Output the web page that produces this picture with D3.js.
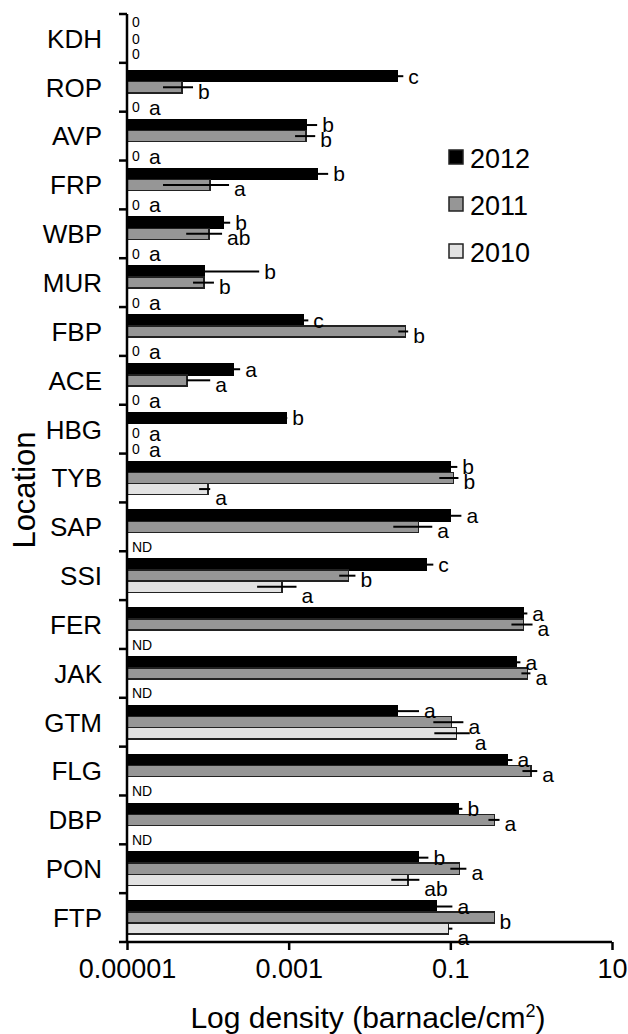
<!DOCTYPE html>
<html>
<head>
	<meta http-equiv="Content-Type" content="text/html; charset=utf-8">
	<title>Barnacle density by location</title>
	<script src="https://d3js.org/d3.v7.min.js"></script>
	<style>
		body { margin: 0; background: #fff; }
		text { font-family: 'Liberation Sans', Arial, sans-serif; fill: #000; }
		.bar { stroke: #222; stroke-width: 1.5; shape-rendering: crispEdges; }
		.err { stroke: #000; stroke-width: 2; }
		.axis path, .axis line { stroke: #000; stroke-width: 2.5; }
	</style>
</head>
<body>
<script>
	// sites, top to bottom
	var locations = ["KDH", "ROP", "AVP", "FRP", "WBP", "MUR", "FBP", "ACE", "HBG", "TYB",
		"SAP", "SSI", "FER", "JAK", "GTM", "FLG", "DBP", "PON", "FTP"];
	var years = ["2012", "2011", "2010"];

	// mean density (barnacle/cm2); 0 = zero count, null = not done
	var mean2012 = [0, 0.022, 0.00165, 0.00225, 0.000155, 0.00009, 0.00151, 0.000206, 0.00093, 0.1,
		0.1, 0.0504, 0.80, 0.656, 0.022, 0.508, 0.126, 0.0402, 0.0671];
	var mean2011 = [0, 0.000048, 0.00165, 0.000107, 0.000104, 0.00009, 0.0277, 0.0000553, 0, 0.109,
		0.0402, 0.00546, 0.80, 0.897, 0.103, 1.0, 0.351, 0.129, 0.351];
	var mean2010 = [0, 0, 0, 0, 0, 0, 0, 0, 0, 0.0001,
		null, 0.00083, null, null, 0.119, null, null, 0.030, 0.0945];

	// error bar ends (low, high)
	var errLo2012 = mean2012;
	var errHi2012 = [0, 0.0262, 0.00225, 0.00308, 0.000189, 0.000432, 0.00175, 0.000251, 0.00096, 0.122,
		0.137, 0.0616, 0.897, 0.736, 0.041, 0.586, 0.141, 0.0535, 0.106];
	var errLo2011 = [0, 0.0000279, 0.0012, 0.0000279, 0.000054, 0.0000656, 0.0227, 0.0000553, 0, 0.073,
		0.0197, 0.00422, 0.57, 0.757, 0.0616, 0.78, 0.296, 0.1, 0.351];
	var errHi2011 = [0, 0.0000656, 0.00213, 0.000183, 0.00015, 0.000119, 0.0301, 0.000107, 0, 0.126,
		0.0598, 0.0067, 1.04, 0.98, 0.145, 1.19, 0.406, 0.158, 0.351];
	var errLo2010 = [0, 0, 0, 0, 0, 0, 0, 0, 0, 0.000078,
		null, 0.000407, null, null, 0.0634, null, null, 0.0186, 0.0945];
	var errHi2010 = [0, 0, 0, 0, 0, 0, 0, 0, 0, 0.000107,
		null, 0.00125, null, null, 0.174, null, null, 0.0414, 0.106];

	// significance letters
	var letters2012 = ["", "c", "b", "b", "b", "b", "c", "a", "b", "b", "a", "c", "a", "a", "a", "a", "b", "b", "a"];
	var letters2011 = ["", "b", "b", "a", "ab", "b", "b", "a", "a", "b", "a", "b", "a", "a", "a", "a", "a", "a", "b"];
	var letters2010 = ["", "a", "a", "a", "a", "a", "a", "a", "a", "a", "", "a", "", "", "a", "", "", "ab", "a"];

	var xTicks = [0.00001, 0.001, 0.1, 10];
	var xTickLabels = ["0.00001", "0.001", "0.1", "10"];

	var series = [
		{year: "2012", mean: mean2012, lo: errLo2012, hi: errHi2012, letters: letters2012, fill: "#000000"},
		{year: "2011", mean: mean2011, lo: errLo2011, hi: errHi2011, letters: letters2011, fill: "#969696"},
		{year: "2010", mean: mean2010, lo: errLo2010, hi: errHi2010, letters: letters2010, fill: "#e2e2e2"}
	];
	// labels sit a little lower for the lower bars, as in the original
	var textShift = {"2012": 0, "2011": 4, "2010": 9};
	var zeroShift = {"2012": -5, "2011": 1, "2010": 5};   // stacked zeros of KDH

	var width = 628, height = 1034;
	var svg = d3.select("body").append("svg")
			.attr("width", width)
			.attr("height", height);

	var x = d3.scaleLog().domain([0.00001, 10]).range([127, 612]);
	var y = d3.scaleBand().domain(locations).range([14, 942])
			.paddingInner(0.32).paddingOuter(0.16);
	var yInner = d3.scaleBand().domain(years).range([0, y.bandwidth()]);

	// flatten to one record per bar
	var rows = [];
	series.forEach(function(s) {
		locations.forEach(function(loc, i) {
			rows.push({loc: loc, year: s.year, mean: s.mean[i], lo: s.lo[i], hi: s.hi[i],
				letter: s.letters[i], fill: s.fill});
		});
	});

	function midY(d) { return y(d.loc) + yInner(d.year) + yInner.bandwidth() / 2; }

	var plot = svg.append("g");

	// bars
	plot.selectAll(".bar")
			.data(rows.filter(function(d) { return d.mean > 0; }))
			.enter()
			.append("rect")
			.attr("class", "bar")
			.attr("x", x(0.00001))
			.attr("y", function(d) { return y(d.loc) + yInner(d.year); })
			.attr("width", function(d) { return x(d.mean) - x(0.00001); })
			.attr("height", yInner.bandwidth())
			.style("fill", function(d) { return d.fill; })
			.style("stroke", function(d) { return d.year == "2012" ? "#000" : "#222"; });

	// error bars
	plot.selectAll(".err")
			.data(rows.filter(function(d) { return d.mean > 0 && d.hi > d.lo; }))
			.enter()
			.append("line")
			.attr("class", "err")
			.attr("x1", function(d) { return x(d.lo); })
			.attr("x2", function(d) { return x(d.hi); })
			.attr("y1", midY)
			.attr("y2", midY);

	// letters after bars
	plot.selectAll(".letter")
			.data(rows.filter(function(d) { return d.mean > 0; }))
			.enter()
			.append("text")
			.attr("class", "letter")
			.attr("x", function(d) { return Math.max(x(d.mean), x(d.hi)) + 5; })
			.attr("y", function(d) { return midY(d) + textShift[d.year]; })
			.attr("dy", ".35em")
			.style("font-size", "21px")
			.text(function(d) { return d.letter; });

	// zero counts and ND
	var empty = plot.selectAll(".empty")
			.data(rows.filter(function(d) { return !(d.mean > 0); }))
			.enter()
			.append("g")
			.attr("transform", function(d) {
				var shift = d.loc == "KDH" ? zeroShift[d.year] : textShift[d.year];
				return "translate(0," + (midY(d) + shift) + ")";
			});
	empty.append("text")
			.attr("x", 132)
			.attr("dy", ".35em")
			.style("font-size", "14px")
			.text(function(d) { return d.mean === null ? "ND" : "0"; });
	empty.append("text")
			.attr("x", 149)
			.attr("dy", ".35em")
			.style("font-size", "21px")
			.text(function(d) { return d.mean === null ? "" : d.letter; });

	// y axis: line plus ticks between sites
	var boundaries = locations.map(function(loc) { return y(loc) - y.step() * y.paddingInner() / 2; });
	boundaries[0] = y.range()[0];
	var yAxis = svg.append("g").attr("class", "axis");
	yAxis.append("line")
			.attr("x1", x(0.00001)).attr("x2", x(0.00001))
			.attr("y1", y.range()[0]).attr("y2", y.range()[1]);
	yAxis.selectAll(".ytick")
			.data(boundaries)
			.enter()
			.append("line")
			.attr("x1", x(0.00001) - 8).attr("x2", x(0.00001))
			.attr("y1", function(d) { return d; })
			.attr("y2", function(d) { return d; });

	svg.append("g").selectAll(".ylab")
			.data(locations)
			.enter()
			.append("text")
			.attr("x", 102)
			.attr("y", function(d) { return y(d) + y.bandwidth() / 2; })
			.attr("dy", ".36em")
			.attr("text-anchor", "end")
			.style("font-size", "26px")
			.text(function(d) { return d; });

	// x axis
	var xAxis = svg.append("g")
			.attr("class", "axis")
			.attr("transform", "translate(0," + y.range()[1] + ")")
			.call(d3.axisBottom(x)
				.tickValues(xTicks)
				.tickFormat(function(d, i) { return xTickLabels[i]; })
				.tickSize(8)
				.tickSizeOuter(0)
				.tickPadding(9));
	xAxis.select(".domain").attr("d", "M" + (x(0.00001) - 8) + ",0H" + x(10));
	xAxis.selectAll(".tick text")
			.style("font-size", "27px")
			.style("font-family", "'Liberation Sans', Arial, sans-serif");

	var xTitle = svg.append("text")
			.attr("x", 368)
			.attr("y", 1028)
			.attr("text-anchor", "middle")
			.style("font-size", "30px")
			.text("Log density (barnacle/cm");
	xTitle.append("tspan").attr("dy", "-11").style("font-size", "18px").text("2");
	xTitle.append("tspan").attr("dy", "11").text(")");

	svg.append("text")
			.attr("transform", "translate(35,490) rotate(-90)")
			.attr("text-anchor", "middle")
			.style("font-size", "31px")
			.text("Location");

	// legend
	var legend = svg.append("g").selectAll(".legend")
			.data(series)
			.enter()
			.append("g")
			.attr("transform", function(d, i) { return "translate(449," + (150 + i * 47) + ")"; });
	legend.append("rect")
			.attr("width", 14).attr("height", 14)
			.style("fill", function(d) { return d.fill; })
			.style("stroke", "#222")
			.style("stroke-width", 1.5);
	legend.append("text")
			.attr("x", 21)
			.attr("y", 18)
			.style("font-size", "27px")
			.text(function(d) { return d.year; });
</script>
</body>
</html>
